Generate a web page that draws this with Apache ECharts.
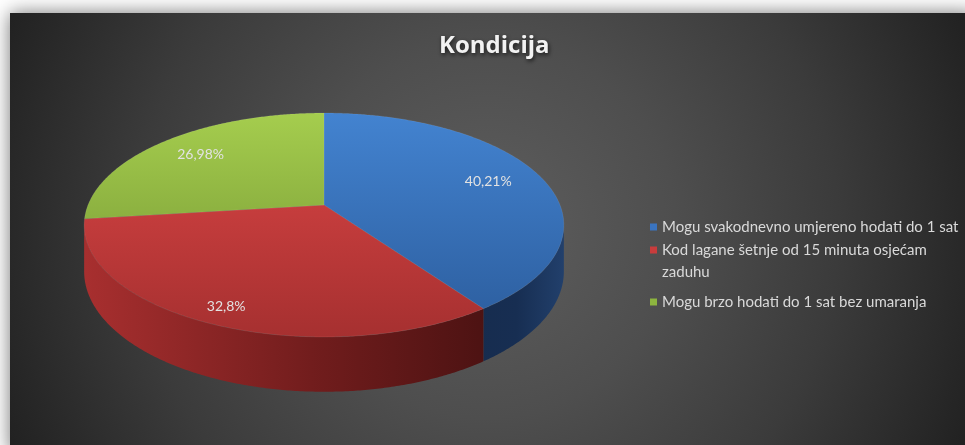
<!DOCTYPE html>
<html><head><meta charset="utf-8">
<script src="https://cdn.jsdelivr.net/npm/echarts@6/dist/echarts.min.js"></script>
<style>html,body{margin:0;padding:0;background:#fff;}#c{width:965px;height:445px;}</style>
</head><body><div id="c"></div>
<script>
// ---- data ----
const chartTitle = 'Kondicija';
const categories = ['Mogu svakodnevno umjereno hodati do 1 sat', 'Kod lagane šetnje od 15 minuta osjećam zaduhu', 'Mogu brzo hodati do 1 sat bez umaranja'];
const values = [40.21, 32.8, 26.98];

// ---- styles ----
const styles = [
  { legend: '#3a74c0', top: ['#4383d0', '#2b5c9c'], wall: [[0, '#2a4f8c'], [0.75, '#162b4c'], [0.9, '#172e52'], [1, '#22406c']] },
  { legend: '#c83c3c', top: ['#dc4646', '#a63030'], wall: [[0, '#a82f2f'], [0.5, '#6f1c1c'], [1, '#3c0e0e']] },
  { legend: '#8db53f', top: ['#a5cd4e', '#6f9030'], wall: [[0, '#6a8c2c'], [1, '#3c5218']] }
];
const geo = { cx: 324, cy: 205, rx: 236, ry: 108.4, k: 0.1786, h: 45 };
const legendFont = '15px Lato';
const legendMaxWidth = 300;

const total = values.reduce((a, b) => a + b, 0);
const starts = [];
{ let acc = 0; values.forEach(v => { starts.push(acc); acc += v; }); }

function P(th, r, z) {
  const u = r * Math.sin(th), w = -r * Math.cos(th);
  const s = 1 / (1 - geo.k * w);
  return [geo.cx + geo.rx * u * s, geo.cy + (geo.ry * w + geo.h * z) * s];
}
function arc(a, b, r, z) {
  const pts = [];
  const n = Math.max(2, Math.ceil((b - a) / (Math.PI / 360)));
  for (let i = 0; i <= n; i++) pts.push(P(a + (b - a) * i / n, r, z));
  return pts;
}
function fmt(v) { return String(v).replace('.', ',') + '%'; }

// wrap legend text; wrapped items get a leading blank line so the marker sits beside the first line
const measureCtx = document.createElement('canvas').getContext('2d');
measureCtx.font = legendFont;
function wrapName(name) {
  if (measureCtx.measureText(name).width <= legendMaxWidth) return name;
  const words = name.split(' ');
  const lines = []; let cur = '';
  words.forEach(w => {
    const t = cur ? cur + ' ' + w : w;
    if (cur && measureCtx.measureText(t).width > legendMaxWidth - 15) { lines.push(cur); cur = w; } else cur = t;
  });
  lines.push(cur);
  return '\n' + lines.join('\n');
}

function makeRender(idx) {
  return function (params, api) {
    const v = api.value(0);
    const a = starts[idx] / total * 2 * Math.PI;
    const b = a + v / total * 2 * Math.PI;
    const st = styles[idx];
    const children = [];
    const A1 = Math.PI / 2 + Math.asin(geo.k), A2 = 1.5 * Math.PI - Math.asin(geo.k);
    const wa = Math.max(a, A1), wb = Math.min(b, A2);
    if (wa < wb) {
      const top = arc(wa, wb, 1, 0);
      const bot = arc(wa, wb, 1, 1).reverse();
      children.push({
        type: 'polygon', shape: { points: top.concat(bot) },
        style: { fill: { type: 'linear', x: geo.cx - geo.rx * 1.02, y: 0, x2: geo.cx + geo.rx * 1.02, y2: 0, global: true,
          colorStops: st.wall.map(s => ({ offset: s[0], color: s[1] })) } }
      });
    }
    const topFace = [[geo.cx, geo.cy]].concat(arc(a, b, 1, 0));
    children.push({
      type: 'polygon', shape: { points: topFace },
      style: { fill: { type: 'linear', x: 0, y: geo.cy - 92, x2: 0, y2: geo.cy + 132, global: true,
        colorStops: [{ offset: 0, color: st.top[0] }, { offset: 1, color: st.top[1] }] },
        stroke: 'rgba(255,255,255,0.10)', lineWidth: 0.8 }
    });
    const mid = (a + b) / 2;
    const lr = 0.76 + 0.13 * Math.max(0, -Math.cos(mid));
    const lp = P(mid, lr, 0);
    children.push({
      type: 'text', x: lp[0], y: lp[1],
      style: { text: fmt(v), fill: '#e2e2e2', font: '14px Lato, "Open Sans", sans-serif', align: 'center', verticalAlign: 'middle' }
    });
    return { type: 'group', children };
  };
}

const series = categories.map((name, i) => ({
  type: 'custom', name, coordinateSystem: 'none',
  itemStyle: { color: styles[i].legend },
  renderItem: makeRender(i),
  data: [[values[i]]]
}));

// per-item line heights give Excel-like spacing between entries
const legendLineHeights = [20, 22, 78];

const chart = echarts.init(document.getElementById('c'));
chart.setOption({
  animation: false,
  backgroundColor: '#ffffff',
  graphic: [{
    type: 'rect', z: -10, silent: true,
    shape: { x: 10, y: 13, width: 965, height: 440 },
    style: {
      fill: { type: 'radial', x: 487, y: 229, r: 540, global: true,
        colorStops: [{ offset: 0, color: '#5e5e5e' }, { offset: 0.35, color: '#4e4e4e' }, { offset: 0.65, color: '#3b3b3b' }, { offset: 1, color: '#1f1f1f' }] },
      shadowBlur: 18, shadowColor: 'rgba(0,0,0,0.55)'
    }
  }],
  title: {
    text: chartTitle, left: 434, top: 29,
    textStyle: { fontFamily: '"Open Sans", sans-serif', fontWeight: 'bold', fontSize: 24, color: '#f2f2f2',
      textShadowColor: 'rgba(0,0,0,0.7)', textShadowBlur: 4, textShadowOffsetX: 1, textShadowOffsetY: 2 }
  },
  legend: {
    orient: 'vertical', left: 645, top: 212, itemWidth: 7, itemHeight: 7, itemGap: -20, icon: 'rect',
    data: categories.map((name, i) => ({ name, textStyle: { lineHeight: legendLineHeights[i] } })),
    formatter: wrapName,
    textStyle: { fontFamily: 'Lato, "Open Sans", sans-serif', fontSize: 15, color: '#d9d9d9', lineHeight: 22 }
  },
  series
});
</script></body></html>
